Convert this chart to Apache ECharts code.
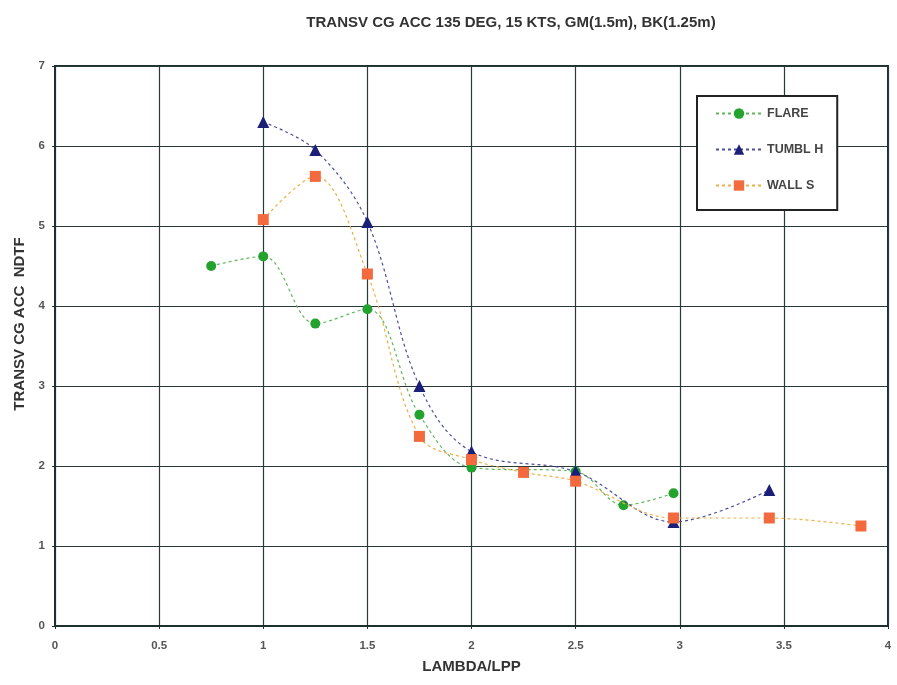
<!DOCTYPE html>
<html>
<head>
<meta charset="utf-8">
<script src="https://cdn.jsdelivr.net/npm/echarts@6/dist/echarts.min.js"></script>
<style>html,body{margin:0;padding:0;background:#fff;}#c{width:897px;height:685px;}</style>
</head>
<body>
<div id="c"></div>
<script>
var titleText = 'TRANSV CG ACC 135 DEG, 15 KTS, GM(1.5m), BK(1.25m)';
var xName = 'LAMBDA/LPP';
var yName = 'TRANSV CG ACC  NDTF';

var flareX = [0.75, 1.0, 1.25, 1.5, 1.75, 2.0, 2.5, 2.73, 2.97];
var flareY = [4.5, 4.62, 3.78, 3.96, 2.64, 1.98, 1.93, 1.51, 1.66];

var tumblX = [1.0, 1.25, 1.5, 1.75, 2.0, 2.5, 2.97, 3.43];
var tumblY = [6.3, 5.95, 5.05, 3.0, 2.18, 1.93, 1.3, 1.7];

var wallX = [1.0, 1.25, 1.5, 1.75, 2.0, 2.25, 2.5, 2.97, 3.43, 3.87];
var wallY = [5.08, 5.62, 4.4, 2.37, 2.08, 1.92, 1.81, 1.35, 1.35, 1.25];

function pairs(xs, ys) { return xs.map(function (x, i) { return [x, ys[i]]; }); }

var chart = echarts.init(document.getElementById('c'));
var ff = 'Liberation Sans, Arial, sans-serif';
var labelStyle = { color: '#555', fontFamily: ff, fontWeight: 'bold', fontSize: 11.5 };
chart.setOption({
  animation: false,
  backgroundColor: '#fff',
  title: {
    text: titleText, left: 506, top: 10, textAlign: 'center',
    textStyle: { color: '#333', fontFamily: ff, fontWeight: 'bold', fontSize: 15 }
  },
  grid: { left: 55, right: 9, top: 66, bottom: 59, show: true, borderColor: '#1f2f2f', borderWidth: 2, backgroundColor: 'transparent' },
  legend: {
    orient: 'vertical', left: 697, top: 96,
    backgroundColor: '#fff', borderColor: '#222', borderWidth: 2,
    padding: [11, 14, 18, 18], itemGap: 23, itemWidth: 46, itemHeight: 13,
    textStyle: { color: '#444', fontFamily: ff, fontWeight: 'bold', fontSize: 12.5 },
    data: ['FLARE', 'TUMBL H', 'WALL S']
  },
  xAxis: {
    type: 'value', min: 0, max: 4, interval: 0.5,
    name: xName, nameLocation: 'middle', nameGap: 33,
    nameTextStyle: { color: '#333', fontFamily: ff, fontWeight: 'bold', fontSize: 15 },
    axisLine: { show: true, lineStyle: { color: '#1f2f2f', width: 2 } },
    axisTick: { show: true, length: 3, lineStyle: { color: '#1f2f2f' } },
    axisLabel: Object.assign({ margin: 14 }, labelStyle),
    splitLine: { show: true, lineStyle: { color: '#2a3838', width: 1.2 } }
  },
  yAxis: {
    type: 'value', min: 0, max: 7, interval: 1,
    name: yName, nameLocation: 'middle', nameGap: 28, nameRotate: 90,
    nameTextStyle: { color: '#333', fontFamily: ff, fontWeight: 'bold', fontSize: 15, padding: [0, 0, 0, 44] },
    axisLine: { show: true, lineStyle: { color: '#1f2f2f', width: 2 } },
    axisTick: { show: true, length: 3, lineStyle: { color: '#1f2f2f' } },
    axisLabel: Object.assign({ margin: 10 }, labelStyle),
    splitLine: { show: true, lineStyle: { color: '#2a3838', width: 1.2 } }
  },
  series: [
    {
      name: 'FLARE', type: 'line', smooth: 0.35, data: pairs(flareX, flareY),
      symbol: 'circle', symbolSize: 10,
      itemStyle: { color: '#23a22e' },
      lineStyle: { color: '#5fb65a', width: 1.2, type: [3, 3] }, z: 3
    },
    {
      name: 'TUMBL H', type: 'line', smooth: 0.35, data: pairs(tumblX, tumblY),
      symbol: 'triangle', symbolSize: 12,
      itemStyle: { color: '#1b1f78' },
      lineStyle: { color: '#4a4f9a', width: 1.2, type: [3, 3] }, z: 4
    },
    {
      name: 'WALL S', type: 'line', smooth: 0.35, data: pairs(wallX, wallY),
      symbol: 'rect', symbolSize: 11,
      itemStyle: { color: '#f26a3e' },
      lineStyle: { color: '#eab04a', width: 1.2, type: [3, 3] }, z: 5
    }
  ]
});
</script>
</body>
</html>
